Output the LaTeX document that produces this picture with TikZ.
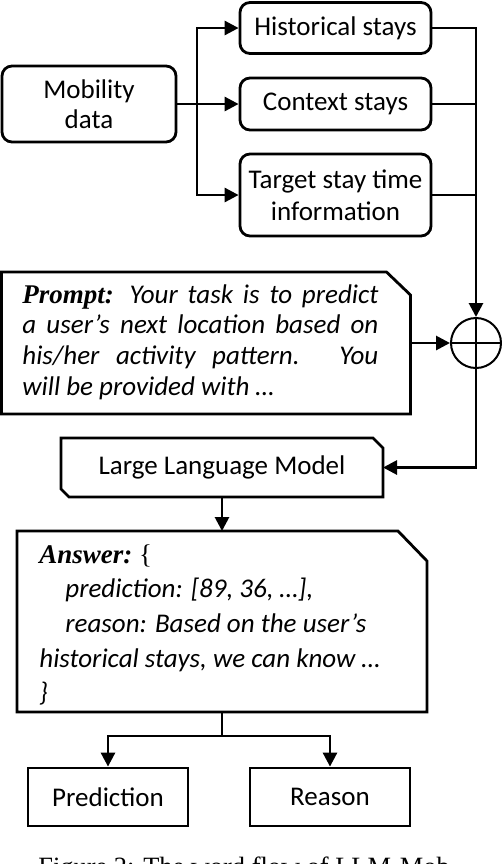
\documentclass[tikz,border=0pt]{standalone}
\usepackage{fontspec}
\setmainfont{Carlito}
\newfontfamily\tnr{Liberation Serif}
\usetikzlibrary{arrows.meta,calc}
\begin{document}
\begin{tikzpicture}[x=0.5pt,y=-0.5pt,
  lw/.style={line width=1.4pt},
  rbox/.style={draw,lw,rounded corners=5pt,inner sep=0pt,align=center,font=\fontsize{13.5}{15.5}\selectfont},
  sbox/.style={draw,lw,inner sep=0pt,align=center,font=\fontsize{13.5}{16}\selectfont},
  framebox/.style={inner sep=0pt,outer sep=0pt},
  arr/.style={lw,-{Triangle[length=7pt,width=7pt]}},
  txt/.style={inner sep=0pt,anchor=base west,font=\fontsize{13.5}{16}\selectfont\itshape},
  capt/.style={inner sep=0pt,anchor=base west,font=\tnr\fontsize{13.2}{15}\selectfont},
]
\useasboundingbox (0,0) rectangle (502,864);
\clip (0,0) rectangle (502,864);

% top part
\node[rbox,minimum width=87pt,minimum height=38pt,font=\fontsize{13.5}{15}\selectfont] (mob) at (89,104) {Mobility\\data};
\node[rbox,minimum width=95.5pt,minimum height=25.5pt] (hist) at (335.5,28) {Historical stays};
\node[rbox,minimum width=95.5pt,minimum height=26pt] (ctx) at (335.5,104) {Context stays};
\node[rbox,minimum width=95.5pt,minimum height=41pt,font=\fontsize{13.5}{16}\selectfont] (tgt) at (335.5,195) {Target stay time\\information};

\coordinate (br) at (197,104);
\draw[arr] (mob.east) -- (ctx.west);
\draw[arr] (br) |- (hist.west);
\draw[arr] (br) |- (tgt.west);

% sum node
\node[draw,circle,line width=1pt,minimum size=25pt,inner sep=0pt] (sum) at (476,343) {};
\draw[line width=1pt] (sum.north) -- (sum.south) (sum.west) -- (sum.east);

\draw[arr] (hist.east) -| (sum.north);
\draw[lw] (ctx.east) -- (ctx.east -| sum.north);
\draw[lw] (tgt.east) -- (tgt.east -| sum.north);

% prompt
\node[framebox,minimum width=204.5pt,minimum height=71pt] (prompt) at (206,343) {};
\draw[lw] (prompt.north west) -- ($(prompt.north east)+(-24,0)$) -- ($(prompt.north east)+(0,23)$) -- (prompt.south east) -- (prompt.south west) -- cycle;
\node[txt] (p1) at (22,303) {\makebox[178pt][s]{{\tnr\bfseries\itshape Prompt}{\tnr\bfseries :} Your task is to predict}};
\node[txt] (p2) at (22,333.7) {\makebox[178pt][s]{a user’s next location based on}};
\node[txt] (p3) at (22,364.3) {\makebox[178pt][s]{his/her activity pattern. You}};
\node[txt] (p4) at (22,395) {will be provided with …};
\draw[arr] (prompt.east) -- (sum.west);

% LLM
\node[framebox,minimum width=161pt,minimum height=29.5pt,font=\fontsize{13.5}{16}\selectfont] (llm) at (222,467.5) {Large Language Model};
\draw[lw] (llm.north west) -- ($(llm.north east)+(-10,0)$) -- ($(llm.north east)+(0,10)$) -- (llm.south east) -- ($(llm.south west)+(8,0)$) -- ($(llm.south west)+(0,-8)$) -- cycle;
\draw[arr] (sum.south) |- (llm.east);

% answer
\node[framebox,minimum width=205pt,minimum height=90.5pt] (ans) at (222,621.5) {};
\draw[lw] (ans.north west) -- ($(ans.north east)+(-29,0)$) -- ($(ans.north east)+(0,30)$) -- (ans.south east) -- (ans.south west) -- cycle;
\node[txt] (a1) at (39,563) {{\tnr\bfseries\itshape Answer}{\tnr\bfseries :}{\tnr\upshape\ \{}};
\node[txt] (a2) at (65,597.7) {prediction: [89, 36, …],};
\node[txt] (a3) at (65,632.3) {reason: Based on the user’s};
\node[txt] (a4) at (39,667) {historical stays, we can know …};
\node[txt] (a5) at (39,701.7) {\}};
\draw[arr] (llm.south) -- (ans.north);

% outputs
\node[sbox,minimum width=80pt,minimum height=29pt] (pred) at (108,797) {Prediction};
\node[sbox,minimum width=80pt,minimum height=29pt] (reas) at (330,797) {Reason};
\coordinate (split) at (222,736);
\draw[lw] (ans.south) -- (split);
\draw[arr] (split) -| (pred.north);
\draw[arr] (split) -| (reas.north);

% caption (cut off at the bottom edge, as in the reference)
\node[capt] (cap) at (38,875) {Figure 2: The word flow of LLM-Mob.};
\end{tikzpicture}
\end{document}
